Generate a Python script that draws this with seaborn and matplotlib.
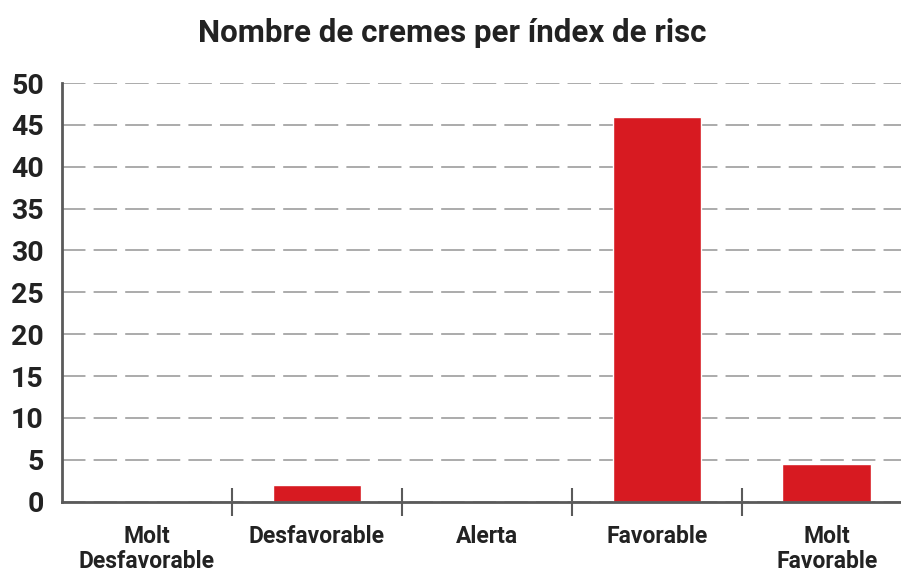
import matplotlib
matplotlib.use("Agg")
import matplotlib.pyplot as plt
import seaborn as sns
import pandas as pd

# data
categories = ["Molt\nDesfavorable", "Desfavorable", "Alerta", "Favorable", "Molt\nFavorable"]
counts = [0, 2, 0, 46, 4.5]
y_ticks = list(range(0, 55, 5))

df = pd.DataFrame({"index": categories, "count": counts})

sns.set_style("white")
plt.rcParams["font.family"] = ["Roboto", "DejaVu Sans"]

red = "#D71A21"
txt = "#222222"
spine = "#5a5a5a"

fig = plt.figure(figsize=(9.01, 5.69), dpi=100)
ax = fig.add_axes([0.0688, 0.1183, 0.943, 0.7358])

sns.barplot(data=df, x="index", y="count", color=red, width=0.52,
            saturation=1, ax=ax, zorder=3)

ax.set_ylim(0, 50)
ax.set_xlim(-0.5, 4.5)
ax.set_yticks(y_ticks)
ax.set_yticklabels([str(t) for t in y_ticks], fontsize=20.5, fontweight="bold", color=txt)
ax.tick_params(axis="y", length=0, pad=13)

ax.set_xticks(range(len(categories)))
ax.set_xticklabels(categories, fontsize=16.5, fontweight="bold", color=txt, linespacing=1.1)
ax.tick_params(axis="x", which="major", length=0, pad=17)
ax.set_xticks([0.5, 1.5, 2.5, 3.5], minor=True)
ax.tick_params(axis="x", which="minor", bottom=True, direction="inout", length=20,
               width=1.5, color=spine)

ax.set_xlabel("")
ax.set_ylabel("")

ax.yaxis.grid(True, linestyle=(0, (13, 4.5)), color="#a5a5a5", linewidth=1.3, zorder=0)
ax.xaxis.grid(False)
ax.set_axisbelow(True)

for s in ["top", "right"]:
    ax.spines[s].set_visible(False)
for s in ["left", "bottom"]:
    ax.spines[s].set_color(spine)
    ax.spines[s].set_linewidth(2)
    ax.spines[s].set_zorder(4)

fig.text(0.502, 0.942, "Nombre de cremes per índex de risc", ha="center", va="center",
         fontsize=22.5, fontweight="bold", color=txt)

fig.savefig("out.png", dpi=100)
